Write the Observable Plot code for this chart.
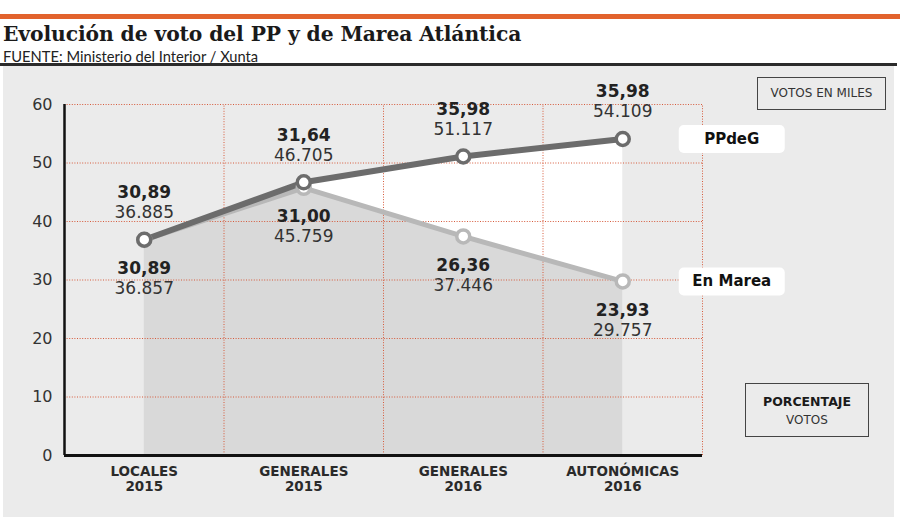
<!DOCTYPE html>
<html>
<head>
<meta charset="utf-8">
<script src="https://cdn.jsdelivr.net/npm/d3@7"></script>
<script src="https://cdn.jsdelivr.net/npm/@observablehq/plot@0.6"></script>
<style>
  html, body { margin: 0; padding: 0; background: #fff; }
  #wrap { position: relative; width: 900px; height: 525px; overflow: hidden; font-family: "DejaVu Sans", sans-serif; }
  .abs { position: absolute; }
  #title { left: 3px; top: 24px; font: bold 20.3px/1 "DejaVu Serif", serif; color: #1a1a1a; white-space: nowrap; letter-spacing: -0.1px; }
  #sub { left: 3px; top: 49px; font: 14.7px/1 Lato, sans-serif; color: #222; white-space: nowrap; }
  #chart { left: 3px; top: 66px; width: 891px; height: 451px; background: #ebebeb; }
  .box { border: 1.5px solid #444; box-sizing: border-box; color: #333; text-align: center; }
</style>
</head>
<body>
<div id="wrap">
  <div class="abs" style="left:0;top:14px;width:900px;height:5px;background:#e2632d"></div>
  <div class="abs" id="title">Evolución de voto del PP y de Marea Atlántica</div>
  <div class="abs" id="sub">FUENTE: Ministerio del Interior / Xunta</div>
  <div class="abs" style="left:0;top:63px;width:897px;height:3px;background:#2b2b2b"></div>
  <div class="abs" id="chart"></div>
  <div class="abs box" style="left:757px;top:77px;width:129px;height:33px;font:12px/30px 'DejaVu Sans',sans-serif;">VOTOS EN MILES</div>
  <div class="abs box" style="left:745px;top:383px;width:124px;height:54px;padding-top:9px;">
    <div style="font:bold 12.5px/18px 'DejaVu Sans',sans-serif;color:#1a1a1a">PORCENTAJE</div>
    <div style="font:12px/18px 'DejaVu Sans',sans-serif;">VOTOS</div>
  </div>
</div>
<script>
// ---- data ----
const categories = ["LOCALES\n2015", "GENERALES\n2015", "GENERALES\n2016", "AUTONÓMICAS\n2016"];
const ppVotes = [36.885, 46.705, 51.117, 54.109];      // miles de votos
const ppPct = [30.89, 31.64, 35.98, 35.98];
const emVotes = [36.857, 45.759, 37.446, 29.757];
const emPct = [30.89, 31.00, 26.36, 23.93];
const yTicks = [0, 10, 20, 30, 40, 50, 60];
const seriesNames = ["PPdeG", "En Marea"];

const rows = categories.map((c, i) => ({i, cat: c, pp: ppVotes[i], em: emVotes[i], ppPct: ppPct[i], emPct: emPct[i]}));
const last = rows[rows.length - 1];
const legendRows = [
  {name: seriesNames[0], i: last.i, v: last.pp},
  {name: seriesNames[1], i: last.i, v: last.em}
];

const fmtPct = v => v.toFixed(2).replace(".", ",");
const fmtVotes = v => v.toFixed(3);

const numFont = "DejaVu Sans";
const gridColor = "#d65a3b";
const ppColor = "#6c6c6c";
const emColor = "#b8b8b8";

const roundedBox = {
  draw(ctx) {
    const w = 106, h = 28, r = 5;
    const x0 = -w / 2, x1 = w / 2, y0 = -h / 2, y1 = h / 2;
    ctx.moveTo(x0 + r, y0);
    ctx.lineTo(x1 - r, y0);
    ctx.arcTo(x1, y0, x1, y0 + r, r);
    ctx.lineTo(x1, y1 - r);
    ctx.arcTo(x1, y1, x1 - r, y1, r);
    ctx.lineTo(x0 + r, y1);
    ctx.arcTo(x0, y1, x0, y1 - r, r);
    ctx.lineTo(x0, y0 + r);
    ctx.arcTo(x0, y0, x0 + r, y0, r);
    ctx.closePath();
  }
};

const chart = Plot.plot({
  width: 891,
  height: 451,
  marginLeft: 61,
  marginRight: 192,
  marginTop: 38,
  marginBottom: 62,
  style: {background: "transparent", overflow: "visible"},
  x: {domain: [-0.5, categories.length - 0.5], axis: null},
  y: {domain: [0, 60], axis: null},
  marks: [
    Plot.areaY(rows, {x: "i", y: "em", fill: "#d9d9d9"}),
    Plot.areaY(rows, {x: "i", y1: "em", y2: "pp", fill: "#ffffff"}),
    Plot.ruleY(yTicks.filter(t => t > 0), {stroke: gridColor, strokeWidth: 1, strokeDasharray: "1,1.6"}),
    Plot.ruleX(categories.map((_, i) => i + 0.5), {y1: 0, y2: 60, stroke: gridColor, strokeWidth: 1, strokeDasharray: "1,1.6"}),
    Plot.ruleX([-0.5], {y1: 0, y2: 60, stroke: "#111", strokeWidth: 2.5}),
    Plot.ruleY([0], {stroke: "#111", strokeWidth: 3}),
    Plot.axisY(yTicks, {tickSize: 0, tickPadding: 12, fontSize: 16, fontFamily: numFont, fill: "#333", label: null}),
    Plot.axisX(rows.map(d => d.i), {tickFormat: i => categories[i], tickSize: 0, tickPadding: 10, fontSize: 13.5, fontWeight: "bold", fontFamily: numFont, fill: "#2a2a2a", lineHeight: 1.12, label: null, style: {letterSpacing: "0.7px"}}),
    Plot.line(rows, {x: "i", y: "em", stroke: emColor, strokeWidth: 5}),
    Plot.line(rows, {x: "i", y: "pp", stroke: ppColor, strokeWidth: 6}),
    Plot.dot(rows, {x: "i", y: "em", r: 6.5, fill: "white", stroke: emColor, strokeWidth: 3.5}),
    Plot.dot(rows, {x: "i", y: "pp", r: 6.5, fill: "white", stroke: ppColor, strokeWidth: 3.5}),
    Plot.text(rows, {x: "i", y: "pp", text: d => fmtPct(d.ppPct), dy: -47, fontSize: 17, fontWeight: "bold", fontFamily: numFont, fill: "#222"}),
    Plot.text(rows, {x: "i", y: "pp", text: d => fmtVotes(d.pp), dy: -27, fontSize: 17, fontFamily: numFont, fill: "#333"}),
    Plot.text(rows, {x: "i", y: "em", text: d => fmtPct(d.emPct), dy: 29, fontSize: 17, fontWeight: "bold", fontFamily: numFont, fill: "#222"}),
    Plot.text(rows, {x: "i", y: "em", text: d => fmtVotes(d.em), dy: 49, fontSize: 17, fontFamily: numFont, fill: "#333"}),
    Plot.dot(legendRows, {x: "i", y: "v", dx: 109, r: 1, symbol: roundedBox, fill: "white", stroke: "none"}),
    Plot.text(legendRows, {x: "i", y: "v", dx: 109, text: "name", fontSize: 15, fontWeight: "bold", fontFamily: numFont, fill: "#111"})
  ]
});
document.getElementById("chart").appendChild(chart);
</script>
</body>
</html>
